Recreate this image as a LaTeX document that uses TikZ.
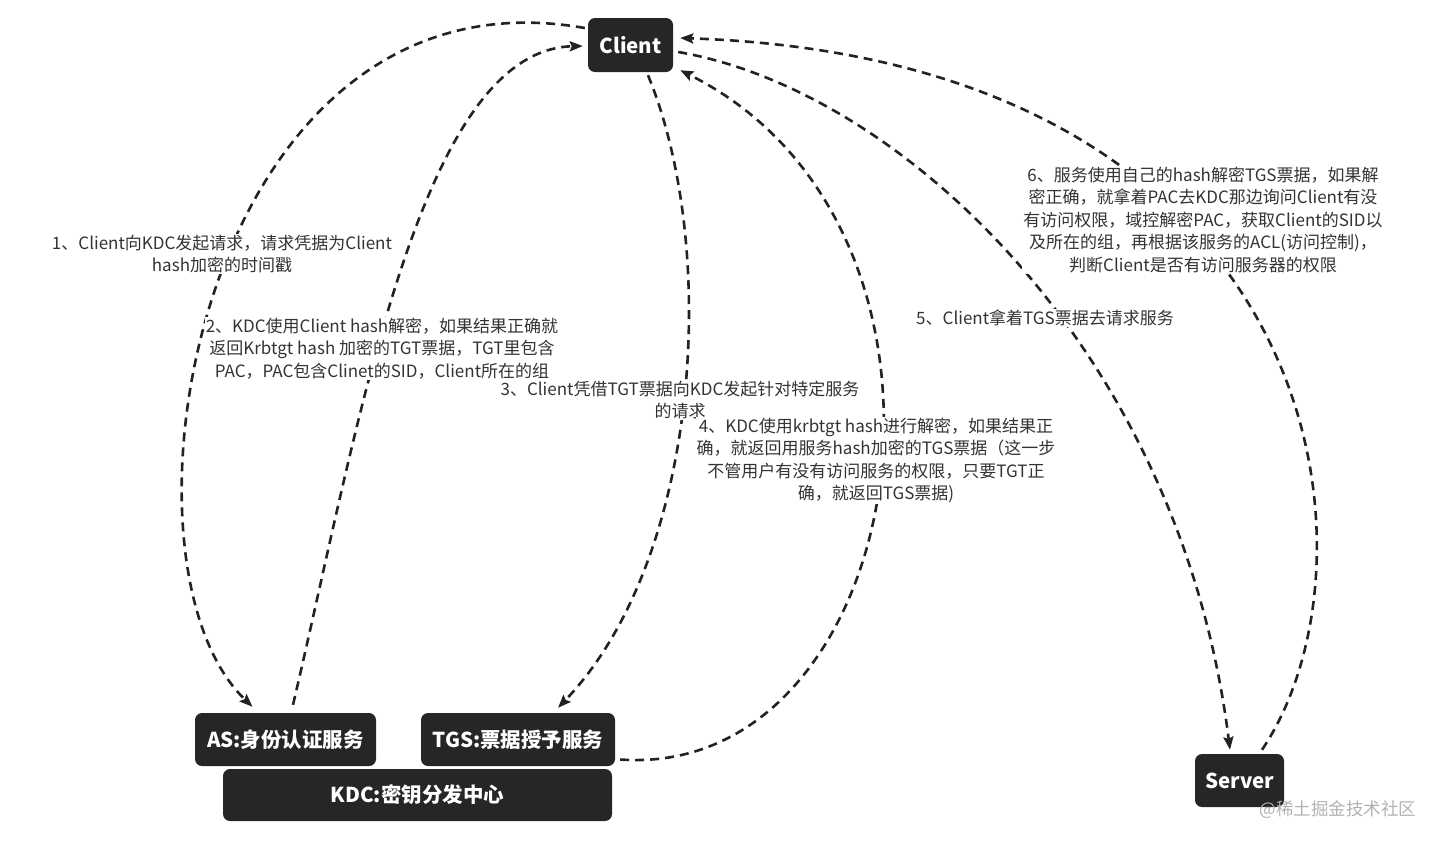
\documentclass[tikz,border=0pt]{standalone}
\usepackage{fontspec}
\setmainfont{Noto Sans CJK SC}
\usetikzlibrary{arrows.meta}
\definecolor{boxdark}{HTML}{262626}
\definecolor{linedark}{HTML}{222222}

\begin{document}
\begin{tikzpicture}[x=1pt,y=-1pt,>={Stealth[length=13pt,width=10pt,inset=2pt]},line cap=butt,
  box/.style={fill=boxdark,rounded corners=7pt,text=white,inner sep=0pt,font=\fontsize{20.5}{24}\selectfont\bfseries},
  flow/.style={->,draw=linedark,line width=2.6pt,dash pattern=on 9pt off 6pt},
  note/.style={fill=white,inner sep=1pt,align=center,text=black!80,font=\fontsize{17}{22.5}\selectfont}]
\useasboundingbox (0,0) rectangle (1441,844);
% the boxes
\node[box,minimum width=85pt,minimum height=54pt] (client) at (630.5,45) {Client};
\node[box,minimum width=181pt,minimum height=53pt] (as) at (285.5,739.5) {AS:身份认证服务};
\node[box,minimum width=194pt,minimum height=53pt] (tgs) at (518,739.5) {TGS:票据授予服务};
\node[box,minimum width=389pt,minimum height=52pt] (kdc) at (417.5,795) {KDC:密钥分发中心};
\node[box,minimum width=89pt,minimum height=53pt] (server) at (1239.5,780.5) {Server};
% the six steps
\draw[flow] ([xshift=-3pt,yshift=17pt]client.west) .. controls (200,-40) and (100,560) .. ([xshift=-33pt,yshift=6pt]as.north);
\draw[flow] ([xshift=7.5pt,yshift=8pt]as.north) .. controls (360,420) and (420,50) .. ([xshift=-5pt,yshift=-1pt]client.west);
\draw[flow] ([xshift=17.5pt,yshift=-3pt]client.south) .. controls (720,250) and (700,560) .. ([xshift=40pt,yshift=5pt]tgs.north);
\draw[flow] ([xshift=5pt,yshift=-20pt]tgs.east) .. controls (910,780) and (1000,230) .. ([xshift=7pt,yshift=2pt]client.south east);
\draw[flow] ([xshift=5pt,yshift=-7pt]client.east) .. controls (900,90) and (1180,350) .. ([xshift=-9.5pt,yshift=4pt]server.north);
\draw[flow] ([xshift=22.5pt,yshift=4pt]server.north) .. controls (1390,560) and (1330,60) .. ([xshift=7pt,yshift=7pt]client.east);
% labels
\node[note] (n1) at (222,254) {1、Client向KDC发起请求，请求凭据为Client\\hash加密的时间戳};
\node[note] (n2) at (382,348.5) {2、KDC使用Client hash解密，如果结果正确就\\返回Krbtgt hash 加密的TGT票据，TGT里包含\\PAC，PAC包含Clinet的SID，Client所在的组};
\node[note] (n3) at (680,400) {3、Client凭借TGT票据向KDC发起针对特定服务\\的请求};
\node[note] (n4) at (876,460.5) {4、KDC使用krbtgt hash进行解密，如果结果正\\确，就返回用服务hash加密的TGS票据（这一步\\不管用户有没有访问服务的权限，只要TGT正\\确，就返回TGS票据)};
\node[note] (n5) at (1045,318) {5、Client拿着TGS票据去请求服务};
\node[note] (n6) at (1203,220) {6、服务使用自己的hash解密TGS票据，如果解\\密正确，就拿着PAC去KDC那边询问Client有没\\有访问权限，域控解密PAC，获取Client的SID以\\及所在的组，再根据该服务的ACL(访问控制)，\\判断Client是否有访问服务器的权限};
\node[text=black!30,font=\fontsize{17.5}{20}\selectfont,inner sep=0pt] (mark) at (1338,810) {@稀土掘金技术社区};
\end{tikzpicture}
\end{document}
